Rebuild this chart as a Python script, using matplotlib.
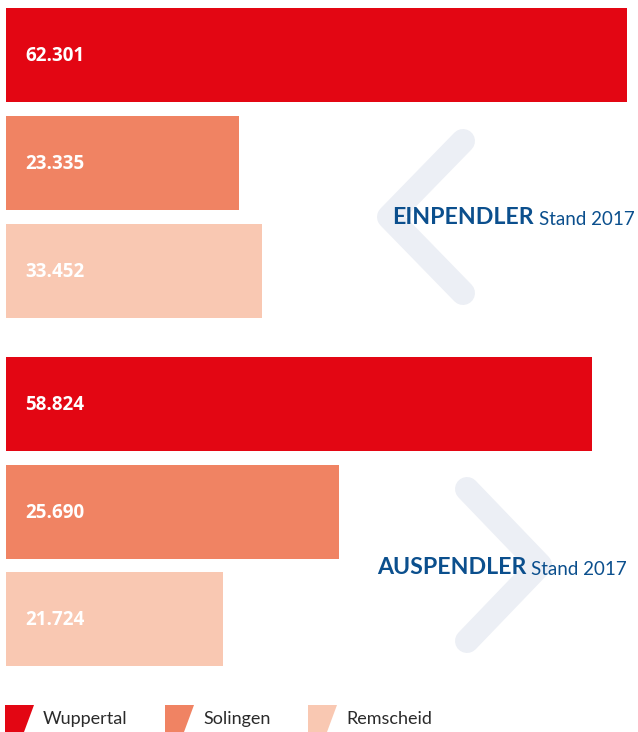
import matplotlib
matplotlib.use("Agg")
import matplotlib.pyplot as plt
from matplotlib.patches import Polygon

# --- Data ---
cities = ["Wuppertal", "Solingen", "Remscheid"]
colors = ["#E30613", "#F08363", "#F9C8B2"]
# bar lengths as drawn in the picture
ein_values = [62301, 23335, 25690]
aus_values = [58824, 33452, 21724]
# printed labels
ein_labels = ["62.301", "23.335", "33.452"]
aus_labels = ["58.824", "25.690", "21.724"]

BLUE = "#0B4F8D"
CHEV = "#ECEFF5"
NARROW = ["Lato", "DejaVu Sans"]

fig = plt.figure(figsize=(6.38, 7.32), dpi=100)

# background layer in pixel coords: chevrons, headings, legend
bg = fig.add_axes([0, 0, 1, 1])
bg.set_xlim(0, 638)
bg.set_ylim(732, 0)
bg.axis("off")

lw = 24 * 72 / 100
bg.plot([463, 389, 463], [141, 217, 293], color=CHEV, lw=lw,
        solid_capstyle="round", solid_joinstyle="round")
bg.plot([467, 540, 467], [489, 565, 641], color=CHEV, lw=lw,
        solid_capstyle="round", solid_joinstyle="round")

fig.canvas.draw()
inv = bg.transData.inverted()
for x, y, head in [(392, 218, "EINPENDLER"), (377, 568, "AUSPENDLER")]:
    t = bg.text(x, y, head, color=BLUE, fontsize=16.7, fontweight="bold",
                family=NARROW, va="center", ha="left")
    bb = t.get_window_extent(renderer=fig.canvas.get_renderer())
    xd = inv.transform((bb.x1 + 5, 0))[0]
    bg.text(xd, y + 1.5, "Stand 2017", color=BLUE, fontsize=13.5,
            family=NARROW, va="center", ha="left")

# legend
for x0, city, c in zip([5, 165, 308], cities, colors):
    bg.add_patch(Polygon([(x0, 705), (x0 + 29, 705), (x0 + 19, 732), (x0, 732)],
                         closed=True, color=c, lw=0))
    bg.text(x0 + 38, 719, city, color="#2b2b2b", fontsize=13,
            family=NARROW, va="center", ha="left")

# bars
ax = fig.add_axes([0, 0, 1, 1])
ax.patch.set_alpha(0)
k = 621 / 62301
ax.set_xlim(-6 / k, (638 - 6) / k)
ax.set_ylim(732, 0)
ax.axis("off")

ein_y = [55, 163, 271]
aus_y = [404, 512, 619]
ax.barh(ein_y, ein_values, height=94, color=colors)
ax.barh(aus_y, aus_values, height=94, color=colors)

for ys, labels in [(ein_y, ein_labels), (aus_y, aus_labels)]:
    for y, lab in zip(ys, labels):
        ax.text(19 / k, y + 1, lab, color="white", fontsize=13.5,
                fontweight="bold", family=["Open Sans", "DejaVu Sans"],
                va="center", ha="left")

fig.savefig("out.png", dpi=100)
